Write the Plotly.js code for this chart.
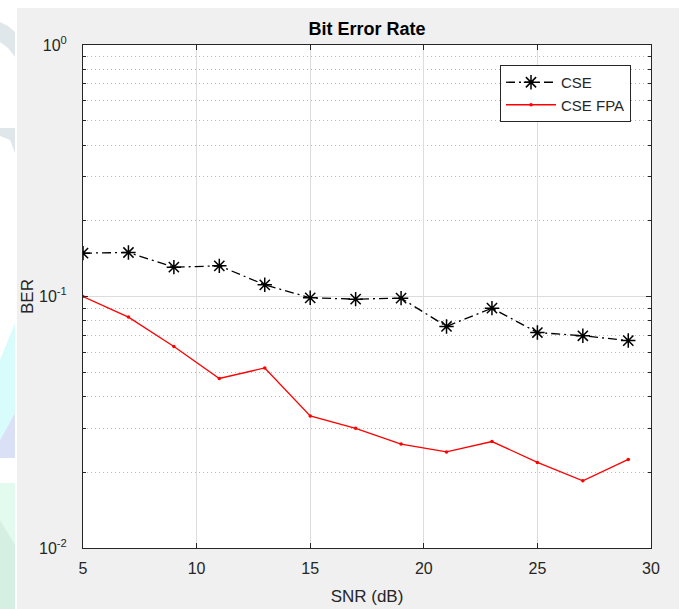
<!DOCTYPE html>
<html>
<head>
<meta charset="utf-8">
<script src="https://cdn.plot.ly/plotly-3.0.1.min.js"></script>
<style>html,body{margin:0;padding:0;background:#fff;}#chart{width:686px;height:609px;}</style>
</head>
<body>
<div id="chart"></div>
<script>
// Data
var snr = [5, 7, 9, 11, 13, 15, 17, 19, 21, 23, 25, 27, 29];
var berCSE = [0.1487, 0.1496, 0.1308, 0.1324, 0.1113, 0.0988, 0.0976, 0.0985, 0.0760, 0.0899, 0.0719, 0.0698, 0.0668];
var berFPA = [0.1000, 0.0828, 0.0633, 0.0472, 0.0520, 0.0335, 0.0299, 0.0259, 0.0241, 0.0265, 0.0219, 0.0185, 0.0225];
var seriesNames = ['CSE', 'CSE FPA'];
var xTicks = [5, 10, 15, 20, 25, 30];
var yTickVals = [1, 0.1, 0.01];
var yTickText = ['10<sup>0</sup>', '10<sup>-1</sup>', '10<sup>-2</sup>'];
var yMinorVals = [0.02,0.03,0.04,0.05,0.06,0.07,0.08,0.09,0.2,0.3,0.4,0.5,0.6,0.7,0.8,0.9];

// plot-area geometry helpers for decorative shapes outside the plot
var L = 83, R = 651, T = 45, B = 548;
function px(v){ return (v - L) / (R - L); }
function py(v){ return (B - v) / (B - T); }
function rect(x0,y0,x1,y1,col){
  return {type:'rect', xref:'paper', yref:'paper', x0:px(x0), x1:px(x1), y0:py(y0), y1:py(y1),
          fillcolor:col, line:{width:0}, layer:'below'};
}
function poly(pts,col){
  var d = pts.map(function(p,i){ return (i?'L':'M') + px(p[0]) + ',' + py(p[1]); }).join(' ') + ' Z';
  return {type:'path', xref:'paper', yref:'paper', path:d, fillcolor:col, line:{width:0}, layer:'below'};
}

var shapes = [
  rect(0, 0, 17, 609, '#ffffff'),
  rect(0, 0, 686, 8, '#ffffff'),
  rect(679, 0, 686, 609, '#ffffff'),
  poly([[0,22],[8,26],[15,32],[15,57],[8,48],[0,42]], '#dfe7eb'),
  poly([[0,128],[15,128],[15,153],[10,140],[0,136]], '#dfe7eb'),
  poly([[0,360],[15,323],[15,413],[0,440]], '#d8fcfc'),
  poly([[0,440],[15,413],[15,458],[0,458]], '#dae1f6'),
  rect(0, 483, 15, 609, '#e2fbee'),
  poly([[0,520],[15,545],[15,609],[0,609]], '#d6efe3')
];

var traces = [
  {x: snr, y: berCSE, name: seriesNames[0], type:'scatter', mode:'lines+markers',
   line:{color:'#000000', width:1.3, dash:'9px,4px,2px,4px'},
   marker:{symbol:'asterisk-open', size:12, color:'#000000', line:{color:'#000000', width:1.5}}},
  {x: snr, y: berFPA, name: seriesNames[1], type:'scatter', mode:'lines+markers',
   line:{color:'#ff0000', width:1.3},
   marker:{symbol:'circle', size:3.5, color:'#ff0000'}}
];

var FAM = '"Liberation Sans", Arial, sans-serif';
var tickFont = {family: FAM, size:16, color:'#262626'};

var layout = {
  width: 686, height: 609,
  margin: {l: L, r: 686 - R, t: T, b: 609 - B, pad: 0},
  paper_bgcolor: '#f0f0f0',
  plot_bgcolor: '#ffffff',
  font: tickFont,
  showlegend: true,
  title: {text: '<b>Bit Error Rate</b>', x: 0.5, xref:'paper', xanchor:'center', y: 1 - 29/609, yanchor:'middle',
          font:{family: FAM, size:18, color:'#000000'}},
  xaxis: {
    range: [5, 30], tickvals: xTicks, ticks:'inside', ticklen:5, tickcolor:'#262626',
    showline:true, linecolor:'#262626', linewidth:1, mirror:'ticks',
    showgrid:true, gridcolor:'#dcdcdc', gridwidth:1, zeroline:false,
    tickfont: tickFont, ticklabelstandoff: 6,
    title: {text:'SNR (dB)', font:{family: FAM, size:17, color:'#262626'}, standoff: 13},
    automargin: false
  },
  yaxis: {
    type:'log', range:[-2, 0], tickvals: yTickVals, ticktext: yTickText,
    ticks:'inside', ticklen:5, tickcolor:'#262626',
    showline:true, linecolor:'#262626', linewidth:1, mirror:'ticks',
    showgrid:true, gridcolor:'#dcdcdc', gridwidth:1, zeroline:false,
    tickfont: tickFont, ticklabelstandoff: 12,
    minor: {tickmode:'array', tickvals: yMinorVals, ticks:'inside', ticklen:3, tickcolor:'#262626',
            showgrid:true, gridcolor:'#b8b8b8', griddash:'1px,3px', gridwidth:1},
    title: {text:'BER', font:{family: FAM, size:17, color:'#262626'}, standoff: 1},
    automargin: false
  },
  legend: {
    x: px(631), y: py(65), xanchor:'right', yanchor:'top',
    bgcolor:'#ffffff', bordercolor:'#262626', borderwidth:1,
    font:{family: FAM, size:15, color:'#262626'},
    tracegroupgap: 0, itemwidth: 50
  },
  shapes: shapes
};

Plotly.newPlot('chart', traces, layout, {displayModeBar:false, staticPlot:true});
</script>
</body>
</html>
